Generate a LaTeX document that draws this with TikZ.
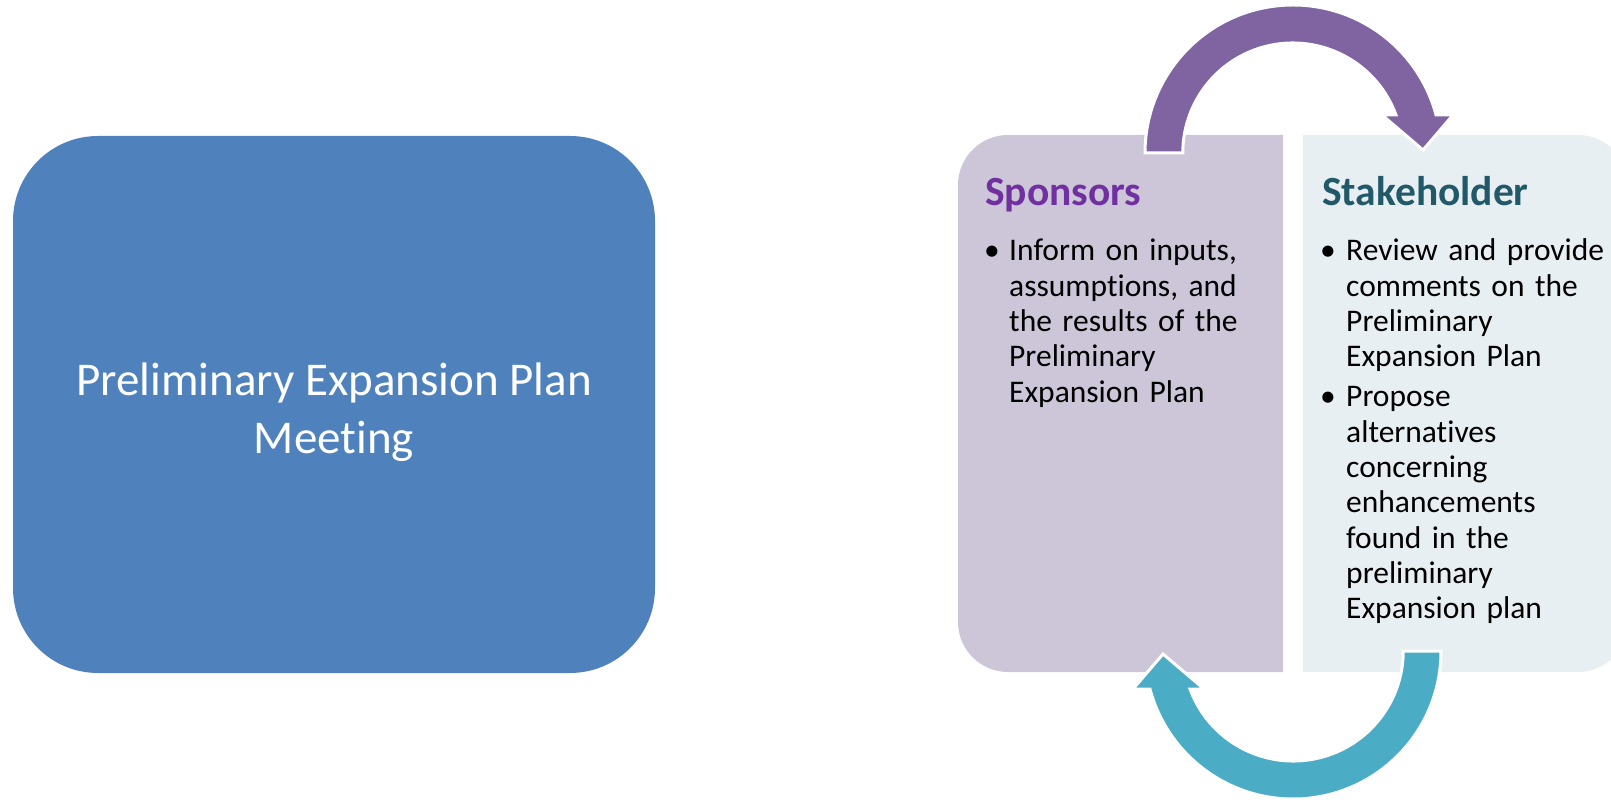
\documentclass[tikz,border=0pt]{standalone}
\usepackage{fontspec}
\setmainfont{Carlito}[Ligatures=NoCommon]
\usepackage{tikz}

\definecolor{meetblue}{HTML}{4F81BD}
\definecolor{sponfill}{HTML}{CCC6D8}
\definecolor{stakefill}{HTML}{E8EFF3}
\definecolor{arrowpurple}{HTML}{8064A2}
\definecolor{arrowteal}{HTML}{4BACC6}
\definecolor{sponpurple}{HTML}{7030A0}
\definecolor{staketeal}{HTML}{215968}

\begin{document}
\begin{tikzpicture}[x=1pt, y=1pt,
    headtext/.style={font=\bfseries\fontsize{41.5}{50}\selectfont, inner sep=0pt, anchor=base west},
    bodytext/.style={font=\fontsize{31.5}{35.3}\selectfont, inner sep=0pt, anchor=base west, align=left, text width=280pt}]
        \useasboundingbox (0,0) rectangle (1611,801);
        \node[fill=meetblue, rounded corners=85pt, minimum width=642pt, minimum height=537pt] (meeting) at (334,396.5) {};
        \node[text=white, align=center, font=\fontsize{47}{58}\selectfont] (meetingtext) at (334,389) {Preliminary Expansion Plan\\Meeting};
        % the two panels
        \fill[sponfill] (1283,666) -- (1008,666) arc[start angle=90, end angle=180, radius=50pt] -- (958,179) arc[start angle=180, end angle=270, radius=50pt] -- (1283,129) -- cycle;
        \fill[stakefill] (1303,666) -- (1578,666) arc[start angle=90, end angle=0, radius=50pt] -- (1628,179) arc[start angle=0, end angle=-90, radius=50pt] -- (1303,129) -- cycle;
        % circular arrows
        \filldraw[fill=arrowpurple, draw=white, line width=3pt] (1145,648) arc[start angle=180, end angle=14.9, radius=148pt] -- (1453,686) -- (1423,651) -- (1382,686) -- (1396,686) arc[start angle=20.2, end angle=180, radius=110pt] -- cycle;
        \filldraw[fill=arrowteal, draw=white, line width=3pt] (1441,150) arc[start angle=0, end angle=-165.1, radius=148pt] -- (1133,112) -- (1163,147) -- (1204,112) -- (1190,112) arc[start angle=-159.8, end angle=0, radius=110pt] -- cycle;
        % texts
        \node[headtext, text=sponpurple] (sponhead) at (985,595) {Sponsors};
        \node[bodytext] (sponbullet) at (984,540) {\textbullet};
        \node[bodytext] (spontext) at (1009,540) {Inform on inputs,\\assumptions, and\\the results of the\\Preliminary\\Expansion Plan};
        \node[headtext, text=staketeal] (stakehead) at (1322,595) {Stakeholder};
        \node[bodytext] (stakebullet1) at (1320,540) {\textbullet};
        \node[bodytext] (staketext1) at (1346,540) {Review and provide\\comments on the\\Preliminary\\Expansion Plan};
        \node[bodytext] (stakebullet2) at (1320,394) {\textbullet};
        \node[bodytext] (staketext2) at (1346,394) {Propose\\alternatives\\concerning\\enhancements\\found in the\\preliminary\\Expansion plan};
    \end{tikzpicture}
\end{document}
